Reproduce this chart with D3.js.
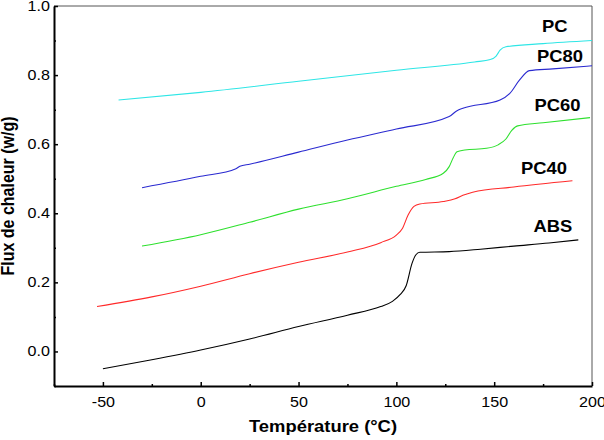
<!DOCTYPE html>
<html lang="fr">
<head>
  <meta charset="UTF-8">
  <title>DSC ABS / PC</title>
  <style>
  body { margin: 0; background: #fff; }
  #chart text { font-family: "Liberation Sans", Arial, sans-serif; fill: #000; }
  #chart .axis path { stroke: #000; stroke-width: 2px; }
  #chart .axis line { stroke: #000; stroke-width: 1.5px; }
  #chart .axis text { font-size: 14px; }
  #chart .title { font-size: 16px; font-weight: bold; }
  #chart .label { font-size: 16px; font-weight: bold; }
  #chart .curve { fill: none; stroke-width: 1.1px; }
  </style>
</head>
<body>
<div id="chart"></div>
<script src="https://d3js.org/d3.v7.min.js"></script>
<script>
// series: [temperature °C, heat flux w/g]
var ABS = [[-50,-0.050],[-25,-0.024],[0,0.004],[25,0.036],[50,0.072],[75,0.105],[92,0.130],[98,0.145],
  [102,0.165],[105,0.190],[108,0.255],[110,0.280],[112,0.287],[127,0.289],[143,0.296],[160,0.305],[178,0.314],[193,0.323]];
var PC40 = [[-53,0.130],[-25,0.158],[0,0.189],[25,0.225],[50,0.258],[75,0.288],[92,0.315],[100,0.337],
  [103,0.355],[106,0.395],[109,0.420],[112,0.427],[124,0.434],[130,0.442],[134,0.452],[139,0.461],[160,0.476],[190,0.494]];
var PC60 = [[-30,0.305],[0,0.338],[25,0.374],[50,0.412],[75,0.442],[100,0.478],[115,0.498],[124,0.516],
  [127,0.535],[129,0.560],[131,0.578],[135,0.583],[146,0.588],[152,0.598],[156,0.615],[159,0.640],[162,0.653],[175,0.662],[199,0.677]];
var PC80 = [[-30,0.474],[0,0.507],[18,0.529],[20,0.536],[25,0.542],[50,0.577],[75,0.612],[100,0.644],
  [127,0.680],[131,0.697],[134,0.704],[153,0.728],[158,0.747],[163,0.786],[168,0.813],[180,0.818],[200,0.827]];
var PC = [[-42,0.728],[0,0.750],[50,0.782],[100,0.814],[140,0.838],[148,0.845],[151,0.855],[153,0.872],
  [156,0.882],[175,0.891],[200,0.900]];

var seriesNames = ["ABS", "PC40", "PC60", "PC80", "PC"];
var seriesData = [ABS, PC40, PC60, PC80, PC];
var seriesColors = ["#000000", "#ff2a2a", "#2ee02e", "#2a2ad0", "#2ee6e6"];
// where each name is written, in data units
var labelAt = [[180,0.346],[175.5,0.514],[182.4,0.696],[183.6,0.838],[181,0.924]];

var xTicks = [-50, 0, 50, 100, 150, 200];
var xMinor = [-75, -25, 25, 75, 125, 175];
var yTicks = [0.0, 0.2, 0.4, 0.6, 0.8, 1.0];
var yMinor = [-0.1, 0.1, 0.3, 0.5, 0.7, 0.9];

function drawChart() {
  var W = 604, H = 440;
  var padL = 54, padR = 592, padT = 6, padB = 386;
  var stretch = "scale(1.15,1)";

  var x = d3.scaleLinear().domain([-75, 200]).range([padL, padR]);
  var y = d3.scaleLinear().domain([-0.1, 1.0]).range([padB, padT]);

  var svg = d3.select("#chart").append("svg")
      .attr("width", W)
      .attr("height", H);

  // thin frame on top and right
  svg.append("path")
      .attr("d", "M" + padL + "," + padT + "H" + padR + "V" + padB)
      .attr("fill", "none")
      .attr("stroke", "#555")
      .attr("stroke-width", 1);

  //minor ticks
  svg.append("g")
      .attr("class", "axis")
      .attr("transform", "translate(0," + padB + ")")
      .call(d3.axisBottom(x).tickValues(xMinor).tickSize(-2).tickFormat(""))
      .select(".domain").remove();
  svg.append("g")
      .attr("class", "axis")
      .attr("transform", "translate(" + padL + ",0)")
      .call(d3.axisLeft(y).tickValues(yMinor).tickSize(-2).tickFormat(""))
      .select(".domain").remove();

  //X axis
  var gx = svg.append("g")
      .attr("class", "axis")
      .attr("transform", "translate(0," + padB + ")")
      .call(d3.axisBottom(x).tickValues(xTicks).tickSize(-4).tickSizeOuter(0).tickPadding(11)
        .tickFormat(function(d) { return String(d); }));
  gx.selectAll("text").attr("transform", stretch);

  //Y axis
  var gy = svg.append("g")
      .attr("class", "axis")
      .attr("transform", "translate(" + padL + ",0)")
      .call(d3.axisLeft(y).tickValues(yTicks).tickSize(-4).tickSizeOuter(0).tickPadding(3.5)
        .tickFormat(function(d) { return d.toFixed(1); }));
  gy.selectAll("text").attr("transform", stretch);

  // curves
  var line = d3.line()
      .x(function(d) { return x(d[0]); })
      .y(function(d) { return y(d[1]); })
      .curve(d3.curveMonotoneX);

  svg.append("g").selectAll("path")
      .data(seriesData)
      .enter()
      .append("path")
      .attr("class", "curve")
      .attr("stroke", function(d, i) { return seriesColors[i]; })
      .attr("d", line);

  // names
  svg.append("g").selectAll("text")
      .data(seriesNames)
      .enter()
      .append("text")
      .attr("class", "label")
      .attr("text-anchor", "middle")
      .attr("transform", function(d, i) {
        return "translate(" + x(labelAt[i][0]) + "," + y(labelAt[i][1]) + ") " + stretch;
      })
      .text(function(d) { return d; });

  // axis titles
  svg.append("text")
      .attr("class", "title")
      .attr("text-anchor", "middle")
      .attr("transform", "translate(" + ((padL + padR) / 2) + ",432) " + stretch)
      .text("Température (°C)");
  svg.append("text")
      .attr("class", "title")
      .attr("text-anchor", "middle")
      .attr("transform", "translate(14," + ((padT + padB) / 2) + ") " + stretch + " rotate(-90)")
      .text("Flux de chaleur (w/g)");
}
drawChart();
</script>
</body>
</html>
